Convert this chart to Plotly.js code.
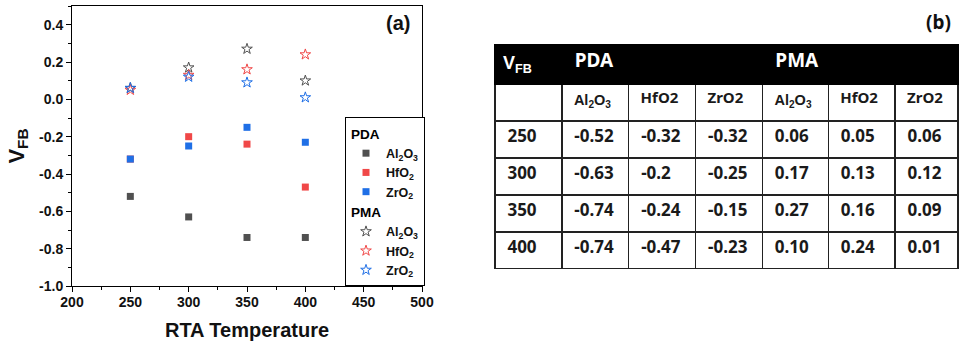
<!DOCTYPE html>
<html>
<head>
<meta charset="utf-8">
<script src="https://cdn.plot.ly/plotly-3.0.1.min.js"></script>
<style>html,body{margin:0;padding:0;background:#fff;}#chart{width:959px;height:344px;}</style>
</head>
<body>
<div id="chart"></div>
<script>
// ---- data ----
const temps = [250, 300, 350, 400];
const pdaAl2O3 = [-0.52, -0.63, -0.74, -0.74];
const pdaHfO2  = [-0.32, -0.2, -0.24, -0.47];
const pdaZrO2  = [-0.32, -0.25, -0.15, -0.23];
const pmaAl2O3 = [0.06, 0.17, 0.27, 0.10];
const pmaHfO2  = [0.05, 0.13, 0.16, 0.24];
const pmaZrO2  = [0.06, 0.12, 0.09, 0.01];
const materials = ['Al<sub>2</sub>O<sub>3</sub>', 'HfO<sub>2</sub>', 'ZrO<sub>2</sub>'];
const tableMaterials = ['Al<sub>2</sub>O<sub>3</sub>', 'HfO2', 'ZrO2'];
const tableHeader = ['V<sub>FB</sub>', 'PDA', '', '', 'PMA', '', ''];
// table display strings (as printed in the table)
const tPdaAl2O3 = ['-0.52', '-0.63', '-0.74', '-0.74'];
const tPdaHfO2  = ['-0.32', '-0.2', '-0.24', '-0.47'];
const tPdaZrO2  = ['-0.32', '-0.25', '-0.15', '-0.23'];
const tPmaAl2O3 = ['0.06', '0.17', '0.27', '0.10'];
const tPmaHfO2  = ['0.05', '0.13', '0.16', '0.24'];
const tPmaZrO2  = ['0.06', '0.12', '0.09', '0.01'];

const colors = ['#505050', '#f04848', '#1f6fe6'];
const W = 959, H = 344;
const font = 'Liberation Sans, Arial, sans-serif';
const tfont = 'Noto Sans, sans-serif';

const pdaSeries = [pdaAl2O3, pdaHfO2, pdaZrO2];
const pmaSeries = [pmaAl2O3, pmaHfO2, pmaZrO2];

const traces = [];
pdaSeries.forEach((ys, i) => {
  traces.push({
    type: 'scatter', mode: 'markers', x: temps, y: ys,
    name: materials[i], legendgroup: 'PDA',
    legendgrouptitle: {text: 'PDA', font: {family: font, size: 13.5, color: '#000', weight: 'bold'}},
    marker: {symbol: 'square', size: 7, color: colors[i]},
    xaxis: 'x', yaxis: 'y'
  });
});
pmaSeries.forEach((ys, i) => {
  traces.push({
    type: 'scatter', mode: 'markers', x: temps, y: ys,
    name: materials[i], legendgroup: 'PMA',
    legendgrouptitle: {text: 'PMA', font: {family: font, size: 13.5, color: '#000', weight: 'bold'}},
    marker: {symbol: 'star-open', size: 8, color: colors[i], line: {width: 1, color: colors[i]}},
    xaxis: 'x', yaxis: 'y'
  });
});

const sp = '\u00a0';
const rowLabels = temps.map(t => String(t));
const rawCols = [
  [''].concat(rowLabels),
  [tableMaterials[0]].concat(tPdaAl2O3),
  [tableMaterials[1]].concat(tPdaHfO2),
  [tableMaterials[2]].concat(tPdaZrO2),
  [tableMaterials[0]].concat(tPmaAl2O3),
  [tableMaterials[1]].concat(tPmaHfO2),
  [tableMaterials[2]].concat(tPmaZrO2)
];
const colVals = rawCols.map(col => col.map(v => v ? sp + v : ''));
const hasSub = v => v.indexOf('<') >= 0;
const cellSizes = rawCols.map(col => col.map((v, r) => r === 0 ? (hasSub(v) ? 14.5 : 15) : 17));
const cellFamilies = rawCols.map(col => col.map((v, r) => (r === 0 && hasSub(v)) ? font : tfont));

traces.push({
  type: 'table',
  domain: {x: [495 / W, 1], y: [(H - 269) / H, (H - 45) / H]},
  columnwidth: [67, 67, 67, 67, 66, 67, 63],
  header: {
    values: tableHeader.map((v, i) => v ? (i === 0 ? v : sp + v) : ''),
    align: 'left', height: 37,
    fill: {color: '#000'},
    line: {color: '#000', width: 1.5},
    font: {family: tableHeader.map((v, i) => i === 0 ? font : tfont),
           size: tableHeader.map((v, i) => i === 0 ? 18 : 19), color: '#fff', weight: 'bold'}
  },
  cells: {
    values: colVals,
    align: 'left', height: 37,
    fill: {color: '#fff'},
    line: {color: '#222', width: 1.5},
    font: {family: cellFamilies, size: cellSizes, color: '#1a1a1a', weight: 'bold'}
  },
  showlegend: false
});

const layout = {
  width: W, height: H,
  margin: {l: 0, r: 0, t: 0, b: 0},
  paper_bgcolor: '#fff', plot_bgcolor: '#fff',
  showlegend: true,
  xaxis: {
    domain: [72 / W, 422 / W], range: [200, 500],
    tickvals: [200, 250, 300, 350, 400, 450, 500],
    ticks: 'outside', ticklen: 5, tickwidth: 1, tickcolor: '#000',
    minor: {dtick: 25, ticks: 'outside', ticklen: 3, tickcolor: '#000', tickwidth: 1},
    ticklabelstandoff: -2,
    showgrid: false, zeroline: false,
    showline: true, linecolor: '#000', linewidth: 1, mirror: true,
    tickfont: {family: font, size: 14, color: '#111', weight: 'bold'},
    title: {text: 'RTA Temperature', font: {family: font, size: 20, color: '#111', weight: 'bold'}, standoff: 14},
    anchor: 'y'
  },
  yaxis: {
    domain: [(H - 286) / H, (H - 6) / H], range: [-1.0, 0.5],
    tickvals: [-1.0, -0.8, -0.6, -0.4, -0.2, 0, 0.2, 0.4],
    ticktext: ['-1.0', '-0.8', '-0.6', '-0.4', '-0.2', '0.0', '0.2', '0.4'],
    ticks: 'outside', ticklen: 5, tickwidth: 1, tickcolor: '#000',
    minor: {dtick: 0.1, ticks: 'outside', ticklen: 3, tickcolor: '#000', tickwidth: 1},
    showgrid: false, zeroline: false,
    showline: true, linecolor: '#000', linewidth: 1, mirror: true,
    tickfont: {family: font, size: 14, color: '#111', weight: 'bold'},
    title: {text: 'V<sub>FB</sub>', font: {family: font, size: 22, color: '#111', weight: 'bold'}, standoff: 8},
    anchor: 'x'
  },
  legend: {
    x: 345 / W, y: (H - 286) / H, xanchor: 'left', yanchor: 'bottom',
    bordercolor: '#000', borderwidth: 1, bgcolor: '#fff',
    tracegroupgap: 0, itemsizing: 'trace', itemwidth: 30,
    font: {family: font, size: 12.5, color: '#111', weight: 'bold'}
  },
  annotations: [
    {text: '<b>(a)</b>', xref: 'paper', yref: 'paper', x: 398 / W, y: (H - 23) / H,
     xanchor: 'center', yanchor: 'middle', showarrow: false,
     font: {family: font, size: 20, color: '#111'}},
    {text: '<b>(b)</b>', xref: 'paper', yref: 'paper', x: 938 / W, y: (H - 22) / H,
     xanchor: 'center', yanchor: 'middle', showarrow: false,
     font: {family: tfont, size: 19, color: '#111'}}
  ]
};

Plotly.newPlot('chart', traces, layout, {staticPlot: true, displayModeBar: false});
</script>
</body>
</html>
